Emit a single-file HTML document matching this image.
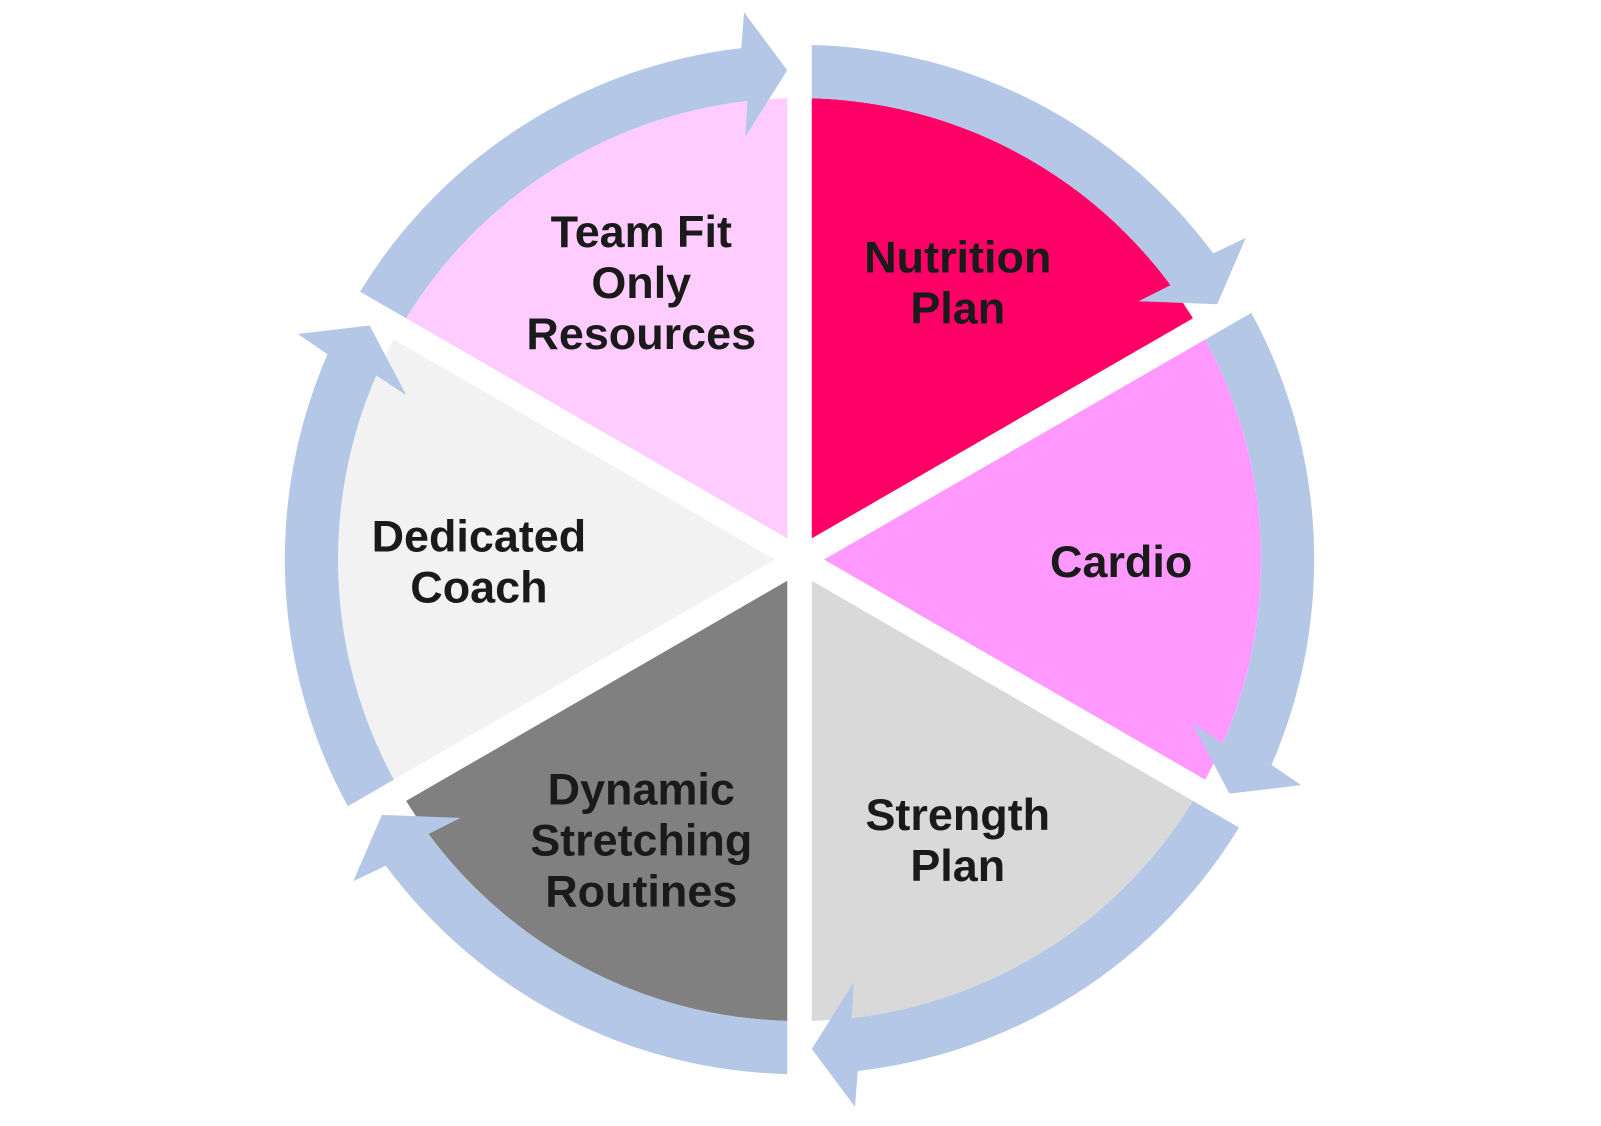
<!DOCTYPE html>
<html><head><meta charset="utf-8"><style>
html,body{margin:0;padding:0;background:#fff;}
svg{display:block;}
text{font-family:"Liberation Sans",Arial,sans-serif;font-weight:bold;font-size:44px;fill:#1a1a1a;text-anchor:middle;}
</style></head><body>
<svg width="1601" height="1126" viewBox="0 0 1601 1126" xmlns="http://www.w3.org/2000/svg">
<g transform="scale(1.0211)">
<g transform="translate(783,548)">
  <path d="M0,0 L0,-452 A452,452 0 0 1 391.4,-226 Z" fill="#FF0066"/>
  <path d="M0,0 L391.4,-226 A452,452 0 0 1 391.4,226 Z" fill="#FF99FF"/>
  <path d="M0,0 L391.4,226 A452,452 0 0 1 0,452 Z" fill="#D9D9D9"/>
  <path d="M0,0 L0,452 A452,452 0 0 1 -391.4,226 Z" fill="#808080"/>
  <path d="M0,0 L-391.4,226 A452,452 0 0 1 -391.4,-226 Z" fill="#F2F2F2"/>
  <path d="M0,0 L-391.4,-226 A452,452 0 0 1 0,-452 Z" fill="#FFCCFF"/>
  <g stroke="#fff" stroke-width="24">
    <line x1="0" y1="0" x2="0" y2="-520"/>
    <line x1="0" y1="0" x2="0" y2="520"/>
    <line x1="0" y1="0" x2="450.3" y2="-260"/>
    <line x1="0" y1="0" x2="450.3" y2="260"/>
    <line x1="0" y1="0" x2="-450.3" y2="-260"/>
    <line x1="0" y1="0" x2="-450.3" y2="260"/>
  </g>
  <g fill="#B4C7E7">
    <path id="a" d="M12,-503.9 A504,504 0 0 1 405.2,-299.8 L437,-315 L409,-250 L332,-253 L363.4,-268.8 A452,452 0 0 0 12,-451.8 Z"/>
    <use href="#a" transform="rotate(60)"/>
    <use href="#a" transform="rotate(120)"/>
    <use href="#a" transform="rotate(180)"/>
    <use href="#a" transform="rotate(240)"/>
    <use href="#a" transform="rotate(300)"/>
  </g>
</g>
<text x="628" y="242">Team Fit</text>
<text x="628" y="292">Only</text>
<text x="628" y="342">Resources</text>
<text x="938" y="267">Nutrition</text>
<text x="938" y="317">Plan</text>
<text x="1098" y="565">Cardio</text>
<text x="938" y="813">Strength</text>
<text x="938" y="863">Plan</text>
<text x="628" y="788">Dynamic</text>
<text x="628" y="838">Stretching</text>
<text x="628" y="888">Routines</text>
<text x="469" y="540">Dedicated</text>
<text x="469" y="590">Coach</text>
</g>
</svg>
</body></html>
